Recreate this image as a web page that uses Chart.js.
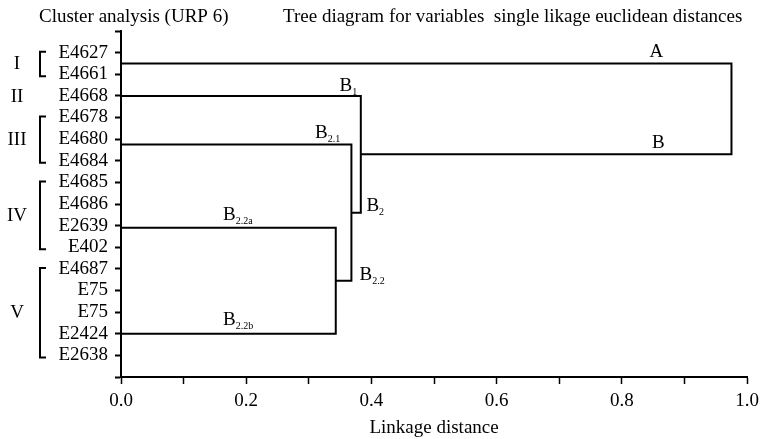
<!DOCTYPE html>
<html>
<head>
<meta charset="utf-8">
<script src="https://cdn.jsdelivr.net/npm/chart.js@4"></script>
<style>
  body { margin: 0; background: #fff; }
</style>
</head>
<body>
<canvas id="tree_chart" width="765" height="439"></canvas>
<script>
// accessions down the y axis, top to bottom
const accessions = ['E4627','E4661','E4668','E4678','E4680','E4684','E4685','E4686','E2639','E402','E4687','E75','E75','E2424','E2638'];
// row where each branch leaves the axis (1 = first accession)
const branchRows = [1.5, 3, 5.25, 9.1, 14];
// joins: nodes 0-4 are the branches above, each join adds a new node 5,6,7...
const joinLeft = [3, 2, 1, 0];
const joinRight = [4, 5, 6, 7];
const joinDistance = [0.343, 0.368, 0.383, 0.975];
// groups marked at the left
const groupNames = ['I','II','III','IV','V'];
const groupFirst = [1, 3, 4, 7, 11];
const groupLast = [2, 3, 6, 10, 15];
// labelled x ticks
const xTickLabels = [0, 0.2, 0.4, 0.6, 0.8, 1.0];

const FONT = "'Liberation Serif', 'Times New Roman', serif";

// build the U shapes of the tree
var nodeX = branchRows.map(function(){ return 0; });
var nodeY = branchRows.slice();
var datasets = [];
for (var i = 0; i < joinLeft.length; i++) {
  var l = joinLeft[i], r = joinRight[i], h = joinDistance[i];
  datasets.push({
    data: [
      {x: nodeX[l], y: nodeY[l]},
      {x: h, y: nodeY[l]},
      {x: h, y: nodeY[r]},
      {x: nodeX[r], y: nodeY[r]}
    ],
    showLine: true,
    borderColor: '#000',
    borderWidth: 2,
    pointRadius: 0,
    fill: false
  });
  nodeX.push(h);
  nodeY.push((nodeY[l] + nodeY[r]) / 2);
}

// branch names (x in linkage distance, y = baseline in rows)
const branchText = [
  {t: 'A', s: '',     x: 0.844, y: 1.20},
  {t: 'B', s: '',     x: 0.848, y: 5.42},
  {t: 'B', s: '1',    x: 0.349, y: 2.78},
  {t: 'B', s: '2.1',  x: 0.310, y: 4.95},
  {t: 'B', s: '2',    x: 0.392, y: 8.33},
  {t: 'B', s: '2.2',  x: 0.381, y: 11.53},
  {t: 'B', s: '2.2a', x: 0.163, y: 8.75},
  {t: 'B', s: '2.2b', x: 0.163, y: 13.6}
];

const decorations = {
  id: 'decorations',
  afterDatasetsDraw: function(chart) {
    var ctx = chart.ctx;
    var xs = chart.scales.x, ys = chart.scales.y;
    ctx.save();
    ctx.fillStyle = '#000';
    ctx.strokeStyle = '#000';
    ctx.textBaseline = 'alphabetic';
    ctx.font = '19px ' + FONT;
    ctx.textAlign = 'left';
    ctx.fillText('Cluster analysis (URP 6)', 39, 22);
    ctx.fillText('Tree diagram for variables  single likage euclidean distances', 283, 22);

    // axis title
    ctx.textAlign = 'center';
    ctx.textBaseline = 'middle';
    ctx.fillText('Linkage distance', (chart.chartArea.left + chart.chartArea.right) / 2, 428);
    ctx.textAlign = 'left';
    ctx.textBaseline = 'alphabetic';

    // branch names with subscripts
    branchText.forEach(function(b) {
      var px = xs.getPixelForValue(b.x), py = ys.getPixelForValue(b.y);
      ctx.font = '19px ' + FONT;
      ctx.fillText(b.t, px, py);
      if (b.s) {
        var w = ctx.measureText(b.t).width;
        ctx.font = '10px ' + FONT;
        ctx.fillText(b.s, px + w, py + 4);
      }
    });

    // group brackets and numerals
    ctx.lineWidth = 2;
    for (var g = 0; g < groupNames.length; g++) {
      var top = ys.getPixelForValue(groupFirst[g]) - 1;
      var bot = ys.getPixelForValue(groupLast[g]) + 2;
      var mid = ys.getPixelForValue((groupFirst[g] + groupLast[g]) / 2);
      if (groupFirst[g] != groupLast[g]) {
        ctx.beginPath();
        ctx.moveTo(46, top);
        ctx.lineTo(40, top);
        ctx.lineTo(40, bot);
        ctx.lineTo(46, bot);
        ctx.stroke();
      }
      ctx.font = '19px ' + FONT;
      ctx.textAlign = 'center';
      ctx.textBaseline = 'middle';
      ctx.fillText(groupNames[g], 17, mid + 1);
    }
    ctx.restore();
  }
};

new Chart(document.getElementById('tree_chart'), {
  type: 'scatter',
  data: { datasets: datasets },
  options: {
    responsive: false,
    animation: false,
    devicePixelRatio: 1,
    layout: { padding: { top: 31, right: 14, left: 0, bottom: 0 } },
    plugins: { legend: { display: false }, tooltip: { enabled: false } },
    scales: {
      x: {
        type: 'linear',
        min: 0, max: 1,
        afterFit: function(scale) { scale.height = 62; },
        grid: { drawOnChartArea: false, tickLength: 7, color: '#000', tickWidth: 1.5 },
        border: { color: '#000', width: 2 },
        ticks: {
          stepSize: 0.1,
          autoSkip: false,
          maxRotation: 0,
          color: '#000',
          padding: 6,
          font: { family: FONT, size: 19 },
          callback: function(v) {
            for (var k = 0; k < xTickLabels.length; k++) {
              if (Math.abs(v - xTickLabels[k]) < 1e-6) return xTickLabels[k].toFixed(1);
            }
            return '';
          }
        }
      },
      y: {
        type: 'linear',
        reverse: true,
        min: 0, max: 16,
        afterFit: function(scale) { scale.width = 121; },
        grid: { drawOnChartArea: false, tickLength: 6, color: '#000', tickWidth: 2 },
        border: { color: '#000', width: 2 },
        ticks: {
          stepSize: 1,
          autoSkip: false,
          color: '#000',
          padding: 7,
          font: { family: FONT, size: 19 },
          callback: function(v) { return accessions[v - 1] || ''; }
        }
      }
    }
  },
  plugins: [decorations]
});
</script>
</body>
</html>
